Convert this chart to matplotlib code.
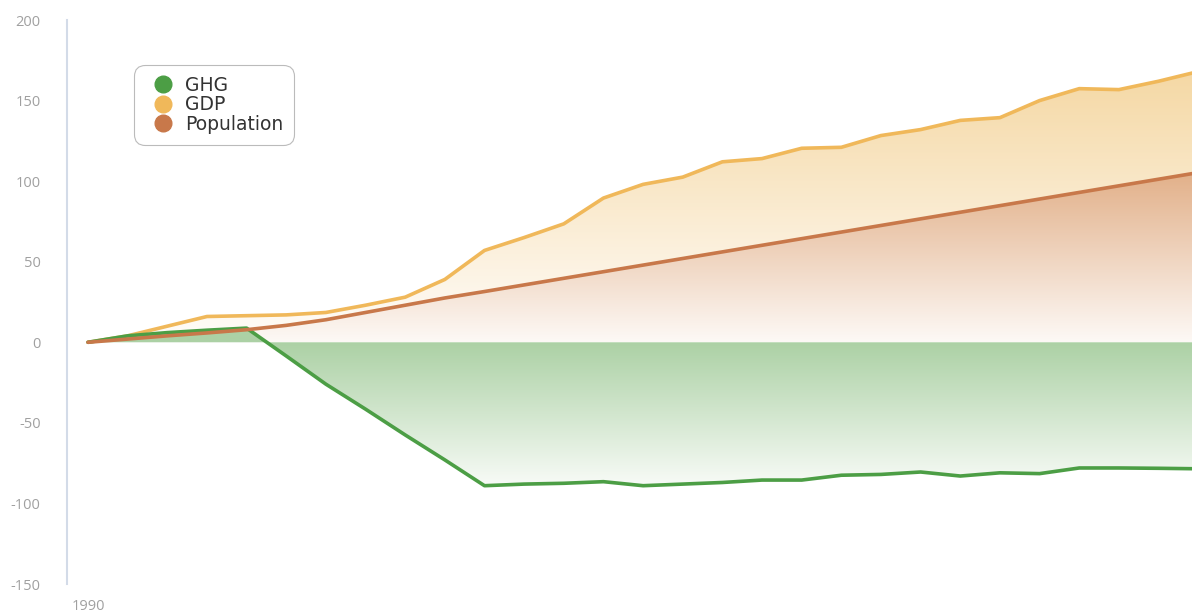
import numpy as np
import matplotlib
matplotlib.use("Agg")
import matplotlib.pyplot as plt
from matplotlib.lines import Line2D
from matplotlib.colors import to_rgba

years = list(range(1990, 2019))
ghg = [0, 4, 6, 7.5, 8.8, -8.5, -26, -41.5, -57.5, -73, -89, -88, -87.5, -86.5,
       -89, -88, -87, -85.5, -85.5, -82.5, -82, -80.5, -83, -81, -81.5, -78, -78,
       -78.2, -78.5]
gdp = [0, 4, 10, 16, 16.5, 17, 18.5, 23, 28, 39, 57, 65, 73.5, 89.5, 98, 102.5,
       112, 114, 120.4, 121, 128.3, 132, 137.7, 139.4, 150, 157.4, 156.8, 162, 168]
population = [0, 2, 4, 5.8, 7.8, 10.5, 14, 18.5, 23, 27.5, 31.5, 35.6, 39.7, 43.8,
              47.9, 52.0, 56.1, 60.2, 64.3, 68.4, 72.5, 76.6, 80.7, 84.8, 88.9,
              93.0, 97.1, 101.2, 105.3]
series_names = ["GHG", "GDP", "Population"]
y_ticks = [-150, -100, -50, 0, 50, 100, 150, 200]
x_ticks = [1990]

c_ghg = "#4c9e45"
c_gdp = "#f0b85a"
c_pop = "#c8784a"

plt.rcParams['font.family'] = ['Open Sans', 'DejaVu Sans']

fig = plt.figure(figsize=(11.92, 6.16), dpi=100)
ax = fig.add_axes([67/1192, 1-584/616, 1-67/1192, (584-20)/616])

x = np.array(years, dtype=float)
xmin, xmax = 1990 - 21/39.65, 1990 + (1192-88)/39.65
ax.set_xlim(xmin, xmax)
ax.set_ylim(-150, 200)


def gradient_fill(yvals, c_far, c_near, zorder):
    yv = np.array(yvals, dtype=float)
    poly = ax.fill_between(x, yv, 0, facecolor='none', edgecolor='none',
                           interpolate=True, zorder=zorder)
    lo, hi = min(yv.min(), 0), max(yv.max(), 0)
    ext = hi if abs(hi) > abs(lo) else lo
    n = 256
    vals = np.linspace(lo, hi, n)
    t = np.clip(vals / ext, 0, 1)[:, None]
    cf = np.array(to_rgba(c_far))
    cn = np.array(to_rgba(c_near))
    img = (cn[None, :] * (1 - t) + cf[None, :] * t)[:, None, :]
    im = ax.imshow(img, extent=[x[0], x[-1], lo, hi], origin='lower',
                   aspect='auto', zorder=zorder, interpolation='bilinear')
    im.set_clip_path(poly.get_paths()[0], transform=ax.transData)
    return im


gradient_fill(gdp, "#f5d8a4", "#fffdfa", 1)
gradient_fill(population, "#e2b089", "#fdf9f6", 2)
# GHG: strong near zero, fading toward the minimum
yv = np.array(ghg, dtype=float)
poly = ax.fill_between(x, yv, 0, facecolor='none', edgecolor='none',
                       interpolate=True, zorder=2)
lo, hi = yv.min(), yv.max()
vals = np.linspace(lo, hi, 256)
t = np.clip(vals / lo, 0, 1)[:, None]
cs = np.array(to_rgba("#acd1a5"))
cw = np.array(to_rgba("#f8fbf7"))
img = (cs[None, :] * (1 - t) + cw[None, :] * t)[:, None, :]
im = ax.imshow(img, extent=[x[0], x[-1], lo, hi], origin='lower',
               aspect='auto', zorder=2, interpolation='bilinear')
im.set_clip_path(poly.get_paths()[0], transform=ax.transData)

lw = 2.6
ax.plot(x, gdp, color=c_gdp, lw=lw, zorder=3, solid_capstyle='round',
        solid_joinstyle='round')
ax.plot(x, ghg, color=c_ghg, lw=lw, zorder=3, solid_capstyle='round',
        solid_joinstyle='round')
ax.plot(x, population, color=c_pop, lw=lw, zorder=4, solid_capstyle='round',
        solid_joinstyle='round')

for s in ['top', 'right', 'bottom']:
    ax.spines[s].set_visible(False)
ax.spines['left'].set_color('#d3dbe8')
ax.spines['left'].set_linewidth(1.5)

ax.set_yticks(y_ticks)
ax.set_yticklabels([str(v) for v in y_ticks])
ax.set_xticks(x_ticks)
ax.set_xticklabels([str(v) for v in x_ticks])
ax.tick_params(axis='y', length=0, pad=19, labelsize=10.5, labelcolor='#a0a0a0')
ax.tick_params(axis='x', length=0, pad=11, labelsize=10.5, labelcolor='#a0a0a0')
ax.set_facecolor('white')

handles = [Line2D([0], [0], marker='o', linestyle='none', markersize=12,
                  markerfacecolor=c, markeredgecolor=c)
           for c in [c_ghg, c_gdp, c_pop]]
leg = ax.legend(handles, series_names, loc='upper left',
                bbox_to_anchor=((134-67)/1125, 1-(65-20)/564),
                borderaxespad=0, frameon=True,
                prop={'family': ['DejaVu Sans'], 'size': 13.5},
                labelspacing=0.03, handletextpad=0.2, handlelength=1.95,
                borderpad=0.58, labelcolor='#333333', fancybox=True)
fr = leg.get_frame()
fr.set_edgecolor('#aaaaaa')
fr.set_linewidth(0.8)
fr.set_boxstyle('round,pad=0,rounding_size=0.6')
leg.set_zorder(10)

fig.savefig("out.png", dpi=100, facecolor='white')
